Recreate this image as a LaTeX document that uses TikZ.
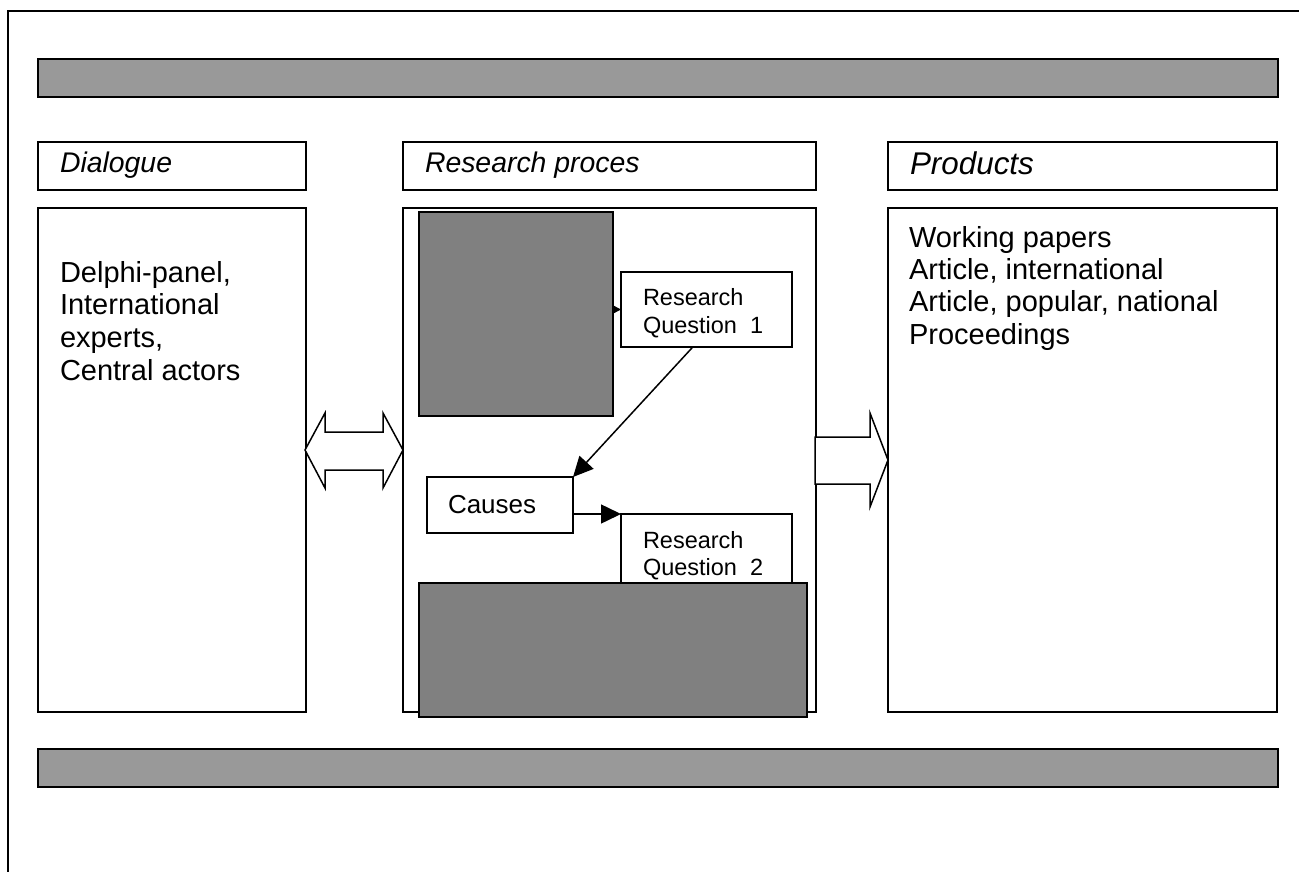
\documentclass[tikz,border=0pt]{standalone}
\usepackage{fontspec}
\setmainfont{Liberation Sans}
\usetikzlibrary{arrows.meta,calc}
\definecolor{barGray}{HTML}{999999}
\definecolor{darkGray}{HTML}{808080}
\begin{document}
\begin{tikzpicture}[x=1pt,y=-1pt,
  box/.style={draw, line width=1.5pt, fill=white, anchor=north west, inner sep=0pt, outer sep=0pt},
  bar/.style={box, fill=barGray, line width=2pt},
  dark/.style={box, fill=darkGray},
  txt/.style={anchor=base west, inner sep=0pt, outer sep=0pt},
  title/.style={txt, font=\fontsize{28.4}{34}\selectfont\itshape},
  body/.style={txt, font=\fontsize{29}{33}\selectfont},
  rq/.style={txt, font=\fontsize{23.5}{27.5}\selectfont},
  bigarrow/.style={line width=1.5pt, -{Triangle[length=20pt,width=19pt]}},
  smallarrow/.style={line width=1.5pt, -{Triangle[length=8pt,width=8pt]}},
  blockarrow/.style={draw, line width=1.5pt, fill=white, line join=miter}]
\useasboundingbox (0,0) rectangle (1299,872);
% outer frame
\draw[line width=2pt] (1299,11) -- (8,11) -- (8,872);
% bars
\node[bar, minimum width=1240, minimum height=38] (topbar) at (38,59) {};
\node[bar, minimum width=1240, minimum height=38] (botbar) at (38,749) {};
% title boxes
\node[box, minimum width=268, minimum height=48] (dlgt) at (38,142) {};
\node[box, minimum width=413, minimum height=48] (rest) at (403,142) {};
\node[box, minimum width=389, minimum height=48] (prot) at (888,142) {};
\node[title] (dlgtxt) at (60,173) {Dialogue};
\node[title] (restxt) at (425,173) {Research proces};
\node[title, font=\fontsize{31.4}{36}\selectfont\itshape] (protxt) at (910,175) {Products};
% content boxes
\node[box, minimum width=268, minimum height=504] (dlgc) at (38,208) {};
\node[box, minimum width=413, minimum height=504] (resc) at (403,208) {};
\node[box, minimum width=389, minimum height=504] (proc) at (888,208) {};
\node[body] (dlgbody) at (60,282) {\vtop{\baselineskip=32.7pt\hbox{Delphi-panel,}\hbox{International}\hbox{experts,}\hbox{Central actors}}};
\node[body] (probody) at (909,247) {\vtop{\baselineskip=32.5pt\hbox{Working papers}\hbox{Article, international}\hbox{Article, popular, national}\hbox{Proceedings}}};
% research process internals
\node[dark, minimum width=194, minimum height=204] (dark1) at (419,212) {};
\node[box, minimum width=171, minimum height=75] (rq1) at (621,272) {};
\node[rq] (rq1txt) at (643,305) {\vtop{\baselineskip=28pt\hbox{Research}\hbox{Question\ \ 1}}};
\draw[smallarrow] (dark1.east |- rq1.west) -- (rq1.west);
\node[box, minimum width=146, minimum height=56] (causes) at (427,477) {};
\node[txt, font=\fontsize{26}{31}\selectfont] (causestxt) at (448,513) {Causes};
\node[box, minimum width=171, minimum height=90] (rq2) at (621,514) {};
\node[rq] (rq2txt) at (643,548) {\vtop{\baselineskip=27pt\hbox{Research}\hbox{Question\ \ 2}}};
\draw[bigarrow] ($(rq1.south west)!0.42!(rq1.south east)$) -- (causes.north east);
\draw[bigarrow] (causes.east |- rq2.north west) -- (rq2.north west);
\node[dark, minimum width=388, minimum height=134] (dark2) at (419,583) {};
% block arrows
\draw[blockarrow] (305,450) -- (325,413) -- (325,432) -- (383,432) -- (383,413) -- (403,450)
  -- (383,488) -- (383,470) -- (325,470) -- (325,488) -- cycle;
\draw[blockarrow] (815,437) -- (870,437) -- (870,413) -- (888,460) -- (870,507) -- (870,484)
  -- (815,484) -- cycle;
\end{tikzpicture}
\end{document}
